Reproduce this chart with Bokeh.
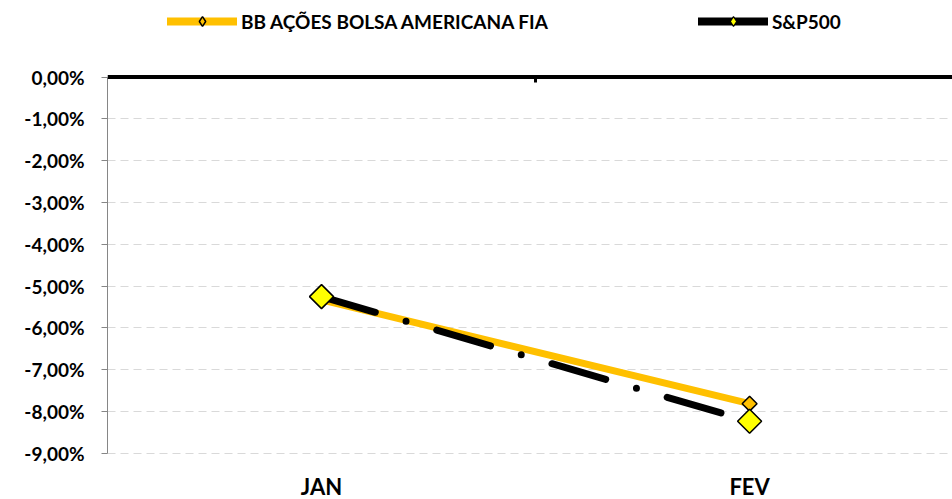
import math
from bokeh.plotting import figure
from bokeh.models import (Range1d, FixedTicker, LinearAxis, Legend, LegendItem,
                          ColumnDataSource, Span)
from bokeh.core.properties import value
from bokeh.embed import file_html
from bokeh.resources import INLINE

# ---- data ----
months = ["JAN", "FEV"]
month_pos = [0.5, 1.5]
bb_fund = [-5.33, -7.81]
sp500 = [-5.25, -8.23]
y_ticks = [0, -1, -2, -3, -4, -5, -6, -7, -8, -9]
y_tick_labels = ["0,00%", "-1,00%", "-2,00%", "-3,00%", "-4,00%", "-5,00%",
                 "-6,00%", "-7,00%", "-8,00%", "-9,00%"]
series_names = ["BB AÇÕES BOLSA AMERICANA FIA", "S&P500"]
category_edges = [0, 1, 2]

FONT = "Lato"

src = ColumnDataSource(dict(x=month_pos, bb=bb_fund, sp=sp500))
lab_src = ColumnDataSource(dict(x=month_pos, y=[min(y_ticks)] * len(months),
                                text=months))

p = figure(width=952, height=499, output_backend="svg", toolbar_location=None,
           x_range=Range1d(0, 1.974), y_range=Range1d(-10.10, 1.829),
           x_axis_location=None, y_axis_location=None,
           min_border_left=107, min_border_top=0, min_border_bottom=0,
           min_border_right=0)
p.outline_line_color = None
p.background_fill_color = "white"
p.border_fill_color = "white"

# left axis (only between 0% and -9%)
yax = LinearAxis(ticker=FixedTicker(ticks=y_ticks), bounds=(-9, 0))
yax.major_label_overrides = {t: l for t, l in zip(y_ticks, y_tick_labels)}
yax.axis_line_color = "#868686"
yax.axis_line_width = 1
yax.major_tick_line_color = "#868686"
yax.major_tick_out = 6
yax.major_tick_in = 0
yax.minor_tick_out = 0
yax.minor_tick_in = 0
yax.major_label_standoff = 17
yax.major_label_text_font = FONT
yax.major_label_text_font_style = "bold"
yax.major_label_text_font_size = "19px"
yax.major_label_text_color = "#000000"
p.add_layout(yax, "left")

# horizontal dashed grid
p.ygrid.ticker = FixedTicker(ticks=y_ticks[1:])
p.ygrid.grid_line_color = "#d9d9d9"
p.ygrid.grid_line_dash = "8 5"
p.ygrid.grid_line_width = 1

# category tick marks hanging from the 0% line
p.xgrid.ticker = FixedTicker(ticks=category_edges)
p.xgrid.grid_line_color = "black"
p.xgrid.grid_line_width = 3
if hasattr(p.xgrid[0], "cross_bounds"):
    p.xgrid.cross_bounds = (-0.14, 0)
else:
    p.xgrid.grid_line_color = None

# thick 0% category axis line
p.add_layout(Span(location=0, dimension="width", line_color="black",
                  line_width=4))

# category labels under the plot area
p.text("x", "y", text="text", source=lab_src, text_font=value(FONT),
       text_font_style="bold", text_font_size="22px", text_color="#000000",
       text_align="center", text_baseline="alphabetic", y_offset=33)

# series
l_bb = p.line("x", "bb", source=src, line_color="#FFC000", line_width=7)
l_sp = p.line("x", "sp", source=src, line_color="black", line_width=7,
              line_dash="56 32 0 32", line_cap="round")
m_bb = p.scatter("x", "bb", source=src, marker="square", size=10.5,
                 angle=math.pi / 4,
                 fill_color="#FFC000", line_color="black", line_width=1.5)
m_sp = p.scatter("x", "sp", source=src, marker="square", size=17,
                 angle=math.pi / 4,
                 fill_color="#FFFF00", line_color="black", line_width=1.5)

# legend-only glyph styles (not drawn in the plot)
lg_bb_line = p.line("x", "bb", source=src, line_color="#FFC000", line_width=8,
                    line_cap="round", visible=False)
lg_bb_mark = p.scatter("x", "bb", source=src, marker="diamond", size=12,
                       fill_color="#FFC000", line_color="black",
                       line_width=1.5, visible=False)
lg_sp_line = p.line("x", "sp", source=src, line_color="black", line_width=8,
                    line_cap="round", visible=False)
lg_sp_mark = p.scatter("x", "sp", source=src, marker="diamond", size=12,
                       fill_color="#FFFF00", line_color="black",
                       line_width=1.2, visible=False)

legend = Legend(items=[LegendItem(label=series_names[0],
                                  renderers=[lg_bb_line, lg_bb_mark]),
                       LegendItem(label=series_names[1],
                                  renderers=[lg_sp_line, lg_sp_mark])],
                orientation="horizontal", location=(60, 466))
legend.border_line_color = None
legend.background_fill_alpha = 0
legend.inactive_fill_alpha = 0
legend.padding = 0
legend.margin = 0
legend.spacing = 150
legend.glyph_width = 70
legend.glyph_height = 24
legend.label_height = 24
legend.label_standoff = 4
legend.label_text_font = FONT
legend.label_text_font_style = "bold"
legend.label_text_font_size = "19px"
legend.label_text_color = "#000000"
p.add_layout(legend, "center")

open("out.html", "w").write(file_html(p, INLINE))
